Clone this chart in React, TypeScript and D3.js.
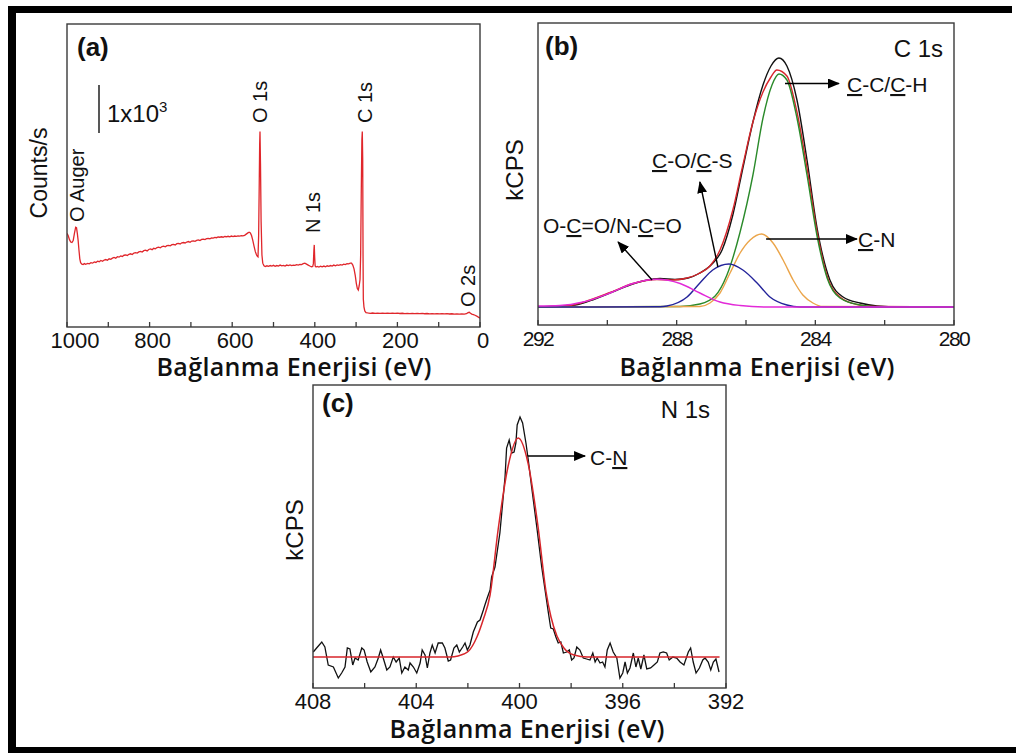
import React from 'react';
import * as d3 from 'd3';

type Pt = [number, number];

// ---------- Panel (a): survey spectrum (binding energy eV, counts/s) ----------
const surveyData: Pt[] = [
  [1000,1950],[997,1900],[994,1820],[991,1770],[988,1760],[985,1800],[982,1950],[979,2080],[977,2070],[975,1950],
  [973,1800],[971,1600],[969,1420],[967,1340],[964,1310],[961,1300],[958,1320],[955,1305],[950,1325],[946,1315],
  [942,1340],[938,1330],[934,1355],[930,1345],[926,1370],[922,1360],[918,1385],[914,1370],[910,1395],[906,1405],
  [902,1390],[898,1420],[894,1410],[890,1435],[886,1450],[882,1435],[878,1465],[874,1455],[870,1480],[866,1470],
  [862,1495],[858,1500],[854,1490],[850,1515],[846,1525],[842,1510],[838,1540],[834,1550],[830,1540],[826,1565],
  [822,1575],[818,1560],[814,1590],[810,1600],[806,1585],[802,1615],[798,1625],[794,1610],[790,1640],[786,1630],
  [782,1655],[778,1665],[774,1650],[770,1675],[766,1685],[762,1670],[758,1695],[754,1700],[750,1690],[746,1715],
  [742,1720],[738,1710],[734,1735],[730,1740],[726,1730],[722,1755],[718,1760],[714,1750],[710,1770],[706,1780],
  [702,1765],[698,1790],[694,1795],[690,1785],[686,1805],[682,1815],[678,1800],[674,1825],[670,1830],[666,1820],
  [662,1840],[658,1845],[654,1835],[650,1855],[646,1850],[642,1865],[638,1860],[634,1875],[630,1870],[626,1880],
  [622,1870],[618,1885],[614,1880],[610,1890],[606,1880],[602,1895],[598,1885],[594,1895],[590,1890],[586,1900],
  [582,1895],[578,1905],[574,1900],[570,1910],[566,1935],[562,1960],[559,1975],[556,1960],[553,1900],[550,1800],
  [547,1680],[544,1570],[541,1500],[539,1470],[537.5,1460],[536,1900],[534.5,3000],[533.5,3800],[532.7,4070],[531.5,3400],
  [530,2200],[528,1500],[526,1330],[523,1275],[520,1260],[516,1275],[512,1265],[508,1280],[504,1270],[500,1285],
  [496,1265],[492,1280],[488,1270],[484,1290],[480,1275],[476,1285],[472,1270],[468,1290],[464,1280],[460,1295],
  [456,1280],[452,1290],[448,1285],[444,1300],[440,1290],[436,1305],[432,1300],[428,1320],[424,1330],[420,1310],
  [416,1290],[412,1270],[408,1255],[405,1260],[403.5,1320],[402.2,1600],[401.3,1710],[400.3,1450],[399.2,1270],[397,1250],
  [394,1262],[390,1250],[386,1265],[382,1255],[378,1270],[374,1255],[370,1275],[366,1265],[362,1280],[358,1270],
  [354,1290],[350,1275],[346,1295],[342,1285],[338,1300],[334,1290],[330,1310],[326,1300],[322,1320],[318,1315],
  [314,1330],[311,1330],[308,1290],[305,1210],[302,1070],[299.5,910],[297,800],[294.7,770],[292.5,860],[290.5,990],
  [289,1500],[287.5,2800],[286,3900],[285,4070],[284,3500],[283.2,1500],[282.5,580],[281,420],[279,335],[276,300],
  [272,292],[266,286],[260,292],[254,284],[248,290],[242,283],[236,289],[230,284],[224,290],[218,282],
  [212,287],[206,283],[200,288],[194,281],[188,286],[182,280],[176,285],[170,279],[164,284],[158,278],
  [152,283],[146,277],[140,282],[134,276],[128,281],[122,275],[116,280],[110,274],[104,279],[98,273],
  [92,278],[86,272],[80,277],[74,271],[68,276],[62,270],[56,275],[50,270],[44,273],[38,270],
  [33,276],[29,300],[26,306],[23,285],[20,268],[16,258],[12,245],[8,228],[4,205],[0,185],
];
const surveyTicks = [1000, 900, 800, 700, 600, 500, 400, 300, 200, 100, 0];
const surveyTickLabels = [1000, 800, 600, 400, 200, 0];
const surveyPeakLabels = ['O Auger', 'O 1s', 'N 1s', 'C 1s', 'O 2s'];
const scaleBarBase = 4040;
const scaleBarLength = 1000;

// ---------- Panel (b): C 1s high resolution ----------
const c1sRaw: Pt[] = [
  [292.0,0],[290.93,0.8],[290.36,3.2],[289.78,6.4],[289.35,8.8],[288.91,10.6],[288.48,11.4],[288.05,11.0],
  [287.67,11.6],[287.33,13.6],[286.98,17.2],[286.69,22.8],[286.38,36.8],[286.09,55.6],[285.80,74.0],
  [285.51,88.8],[285.28,96.4],[285.05,99.6],[284.82,96.4],[284.53,82.8],[284.24,58.8],[283.95,31.6],
  [283.58,10.8],[283.20,4.0],[282.71,1.6],[282.22,0.4],[281.56,0],[280.0,0],
];
const c1sEnvelope: Pt[] = [
  [292.0,0],[291.08,0.6],[290.50,2.8],[289.92,5.8],[289.26,9.4],[288.57,11.0],[288.13,10.8],[287.76,11.4],
  [287.38,13.2],[287.04,16.4],[286.75,22.8],[286.38,38.8],[286.09,56.8],[285.80,74.0],[285.51,86.0],
  [285.28,92.0],[285.11,94.8],[284.82,92.4],[284.53,78.0],[284.24,55.6],[283.95,30.0],[283.66,12.4],
  [283.29,4.0],[282.80,1.0],[282.34,0.2],[280.0,0],
];
const c1sCC: Pt[] = [
  [292.0,0],[287.90,0.2],[287.33,1.2],[286.89,4.4],[286.55,12.8],[286.17,30.0],[285.80,52.8],[285.51,75.6],
  [285.25,88.8],[285.05,93.2],[284.82,90.8],[284.53,75.6],[284.24,52.8],[283.95,28.4],[283.66,11.6],
  [283.29,3.6],[282.71,0.8],[282.13,0],[280.0,0],
];
const c1sCN: Pt[] = [
  [292.0,0],[287.33,0.2],[287.04,1.6],[286.75,5.6],[286.46,13.6],[286.17,21.6],[285.88,26.8],[285.55,29.2],
  [285.22,25.6],[284.93,18.8],[284.64,10.8],[284.36,4.8],[284.07,1.6],[283.78,0.2],[280.0,0],
];
const c1sCO: Pt[] = [
  [292.0,0],[288.48,0.1],[288.28,0.4],[287.70,4.0],[287.33,9.6],[286.96,14.8],[286.49,17.2],[286.09,14.8],
  [285.68,9.6],[285.31,4.0],[284.82,0.8],[284.44,0],[280.0,0],
];
const c1sOCO: Pt[] = [
  [292.0,0.4],[291.37,0.6],[290.70,2.0],[289.92,5.6],[289.26,9.4],[288.57,11.1],[287.90,9.4],[287.33,5.6],
  [286.75,2.0],[286.17,0.6],[285.39,0],[280.0,0],
];
const c1sTicks = [292, 290, 288, 286, 284, 282, 280];
const c1sTickLabels = [292, 288, 284, 280];

// ---------- Panel (c): N 1s high resolution ----------
const n1sRaw: Pt[] = [
  [407.99,0.5],[407.86,0.9],[407.66,1.5],[407.54,1.0],[407.41,-0.8],[407.21,-1.0],[407.02,-2.1],[406.89,-1.6],
  [406.76,-1.0],[406.67,0.9],[406.57,0.8],[406.46,-0.8],[406.37,-0.1],[406.25,-0.3],[406.11,0.9],[406.02,0.7],
  [405.90,-0.5],[405.76,-1.5],[405.60,-1.0],[405.47,-0.1],[405.38,0.7],[405.28,-0.1],[405.14,-1.3],[405.02,-1.0],
  [404.89,0.0],[404.78,-0.5],[404.66,-0.1],[404.56,-1.6],[404.44,-1.0],[404.31,-1.3],[404.24,-0.6],[404.11,-1.0],
  [403.98,-1.6],[403.85,-0.6],[403.77,0.7],[403.66,0.2],[403.57,-1.1],[403.47,0.4],[403.38,1.2],[403.27,0.4],
  [403.15,1.4],[402.99,1.4],[402.89,0.9],[402.76,-0.4],[402.67,-0.3],[402.54,0.9],[402.43,1.2],[402.33,0.5],
  [402.20,1.0],[402.11,1.4],[402.02,0.7],[401.92,1.2],[401.79,2.5],[401.63,3.5],[401.53,3.7],[401.40,4.7],
  [401.34,5.2],[401.25,5.9],[401.14,6.7],[401.08,8.0],[400.95,9.0],[400.76,12.4],[400.56,18.0],[400.50,20.9],
  [400.40,21.7],[400.30,20.4],[400.21,20.5],[400.14,21.4],[400.09,23.2],[399.98,24.0],[399.88,23.4],[399.75,21.4],
  [399.66,19.7],[399.53,17.0],[399.33,13.0],[399.14,9.0],[399.01,6.7],[398.88,4.4],[398.79,2.9],[398.69,2.8],
  [398.59,2.0],[398.50,1.4],[398.40,1.5],[398.30,0.4],[398.17,0.5],[398.07,0.7],[397.98,-0.3],[397.89,-0.1],
  [397.78,1.0],[397.66,0.7],[397.53,-0.1],[397.40,-0.2],[397.27,-0.3],[397.16,0.4],[397.07,-0.5],[396.99,-0.1],
  [396.88,-0.6],[396.78,-0.5],[396.69,-1.0],[396.60,0.7],[396.49,1.4],[396.37,0.5],[396.23,-0.1],[396.11,-2.1],
  [396.00,-1.6],[395.91,-0.5],[395.82,-1.6],[395.72,-1.1],[395.59,0.4],[395.49,-1.0],[395.40,-0.1],[395.30,-1.2],
  [395.18,0.2],[395.07,-1.2],[394.92,-1.1],[394.79,-0.8],[394.66,-0.5],[394.56,0.4],[394.43,0.5],[394.30,0.4],
  [394.20,-0.3],[394.06,0.0],[393.91,-0.1],[393.78,-0.5],[393.63,-0.8],[393.46,0.5],[393.37,0.9],[393.27,-0.5],
  [393.16,-1.6],[393.03,-1.1],[392.90,-0.3],[392.81,-0.1],[392.69,-0.5],[392.59,-1.3],[392.49,-0.5],[392.39,-0.2],
  [392.27,-1.5],
];
const n1sFit: Pt[] = [
  [408.0,0],[402.69,0],[402.38,0.1],[401.99,0.55],[401.65,2.0],[401.41,3.7],[401.14,6.2],[400.83,12.7],
  [400.44,19.1],[400.05,21.9],[399.67,19.4],[399.28,13.0],[398.97,6.5],[398.78,4.0],[398.55,2.1],
  [398.28,0.9],[397.89,0.2],[397.38,0],[392.25,0],
];
const n1sTicks = [408, 406, 404, 402, 400, 398, 396, 394, 392];
const n1sTickLabels = [408, 404, 400, 396, 392];

const axisTitle = 'Bağlanma Enerjisi (eV)';

const SANS = '"Liberation Sans", Arial, sans-serif';
const TITLE = '"Open Sans", "Noto Sans", sans-serif';

type Seg = { t: string; u?: boolean };

function Label({ x, y, segs, size = 21 }: { x: number; y: number; segs: Seg[]; size?: number }) {
  return (
    <text x={x} y={y} fontFamily={SANS} fontSize={size} fill="#111">
      {segs.map((s, i) => (
        <tspan key={i} textDecoration={s.u ? 'underline' : undefined}>{s.t}</tspan>
      ))}
    </text>
  );
}

function Arrow({ x1, y1, x2, y2 }: { x1: number; y1: number; x2: number; y2: number }) {
  return <line x1={x1} y1={y1} x2={x2} y2={y2} stroke="#000" strokeWidth={1.4} markerEnd="url(#ah)" />;
}

function Box({ x0, x1, y0, y1 }: { x0: number; x1: number; y0: number; y1: number }) {
  return <rect x={x0} y={y0} width={x1 - x0} height={y1 - y0} fill="none" stroke="#3a3a3a" strokeWidth={1.4} />;
}

function Title({ x, y }: { x: number; y: number }) {
  return (
    <text x={x} y={y} textAnchor="middle" fontFamily={TITLE} fontWeight={600} fontSize={25}
      textLength={275} lengthAdjust="spacing" fill="#111">{axisTitle}</text>
  );
}

export default function App() {
  // panel a
  const xA = d3.scaleLinear().domain([1000, 0]).range([67, 480]);
  const yA = d3.scaleLinear().domain([0, 6312]).range([327, 24]);
  const lineA = d3.line<Pt>().x(d => xA(d[0])).y(d => yA(d[1]));

  // panel b
  const xB = d3.scaleLinear().domain([292, 280]).range([538, 954]);
  const yB = d3.scaleLinear().domain([-7.2, 113.6]).range([325, 23]);
  const lineB = d3.line<Pt>().x(d => xB(d[0])).y(d => yB(d[1])).curve(d3.curveMonotoneX);

  // panel c
  const xC = d3.scaleLinear().domain([408, 392]).range([313, 726]);
  const yC = d3.scaleLinear().domain([-3.1, 27.2]).range([688, 385]);
  const lineCRaw = d3.line<Pt>().x(d => xC(d[0])).y(d => yC(d[1]));
  const lineCFit = d3.line<Pt>().x(d => xC(d[0])).y(d => yC(d[1])).curve(d3.curveMonotoneX);

  const bLines: { d: Pt[]; c: string }[] = [
    { d: c1sRaw, c: '#111111' },
    { d: c1sEnvelope, c: '#d7262b' },
    { d: c1sCC, c: '#2a8a2a' },
    { d: c1sCN, c: '#eba54a' },
    { d: c1sCO, c: '#23239a' },
    { d: c1sOCO, c: '#e22ad8' },
  ];

  return (
    <svg width={1016} height={753} style={{ position: 'absolute', left: 0, top: 0, background: '#fff' }}>
      <defs>
        <marker id="ah" viewBox="0 0 12 10" refX={11} refY={5} markerWidth={12} markerHeight={10}
          markerUnits="userSpaceOnUse" orient="auto">
          <path d="M0,0 L12,5 L0,10 Z" fill="#000" />
        </marker>
        <clipPath id="clipA"><rect x={67} y={24} width={413} height={303} /></clipPath>
        <clipPath id="clipB"><rect x={538} y={23} width={416} height={302} /></clipPath>
        <clipPath id="clipC"><rect x={313} y={385} width={413} height={303} /></clipPath>
      </defs>

      {/* outer frame */}
      <rect x={8} y={6} width={8} height={747} fill="#000" />
      <rect x={8} y={6} width={1004} height={7} fill="#000" />
      <rect x={8} y={747} width={1008} height={6} fill="#000" />

      {/* ---------- Panel a ---------- */}
      <g>
        <path d={lineA(surveyData) || ''} fill="none" stroke="#e0262b" strokeWidth={1.3} clipPath="url(#clipA)" />
        {surveyTicks.map(t => (
          <line key={t} x1={xA(t)} x2={xA(t)} y1={327} y2={322} stroke="#3a3a3a" strokeWidth={1.3} />
        ))}
        <Box x0={67} x1={480} y0={24} y1={327} />
        {surveyTickLabels.map(t => (
          <text key={t} x={xA(t) + (t === 1000 ? 8 : 3)} y={348} textAnchor="middle" fontFamily={SANS} fontSize={22} fill="#111">{t}</text>
        ))}
        <Title x={294} y={376} />
        <text transform="translate(47,173) rotate(-90)" textAnchor="middle" fontFamily={SANS} fontSize={23} fill="#111">Counts/s</text>
        <text x={77} y={56} fontFamily={SANS} fontWeight={700} fontSize={26} fill="#111">(a)</text>
        <line x1={99} x2={99} y1={yA(scaleBarBase)} y2={yA(scaleBarBase + scaleBarLength)} stroke="#111" strokeWidth={1.4} />
        <text x={107} y={122} fontFamily={SANS} fontSize={24} fill="#111">1x10<tspan fontSize={15} dy={-10}>3</tspan></text>
        {[
          { x: 84, y: 222 },
          { x: 267, y: 123 },
          { x: 320, y: 233 },
          { x: 372, y: 123 },
          { x: 475, y: 307 },
        ].map((p, i) => (
          <text key={i} transform={`translate(${p.x},${p.y}) rotate(-90)`} fontFamily={SANS} fontSize={20} fill="#111">{surveyPeakLabels[i]}</text>
        ))}
      </g>

      {/* ---------- Panel b ---------- */}
      <g>
        <g clipPath="url(#clipB)">
          {bLines.map((l, i) => (
            <path key={i} d={lineB(l.d) || ''} fill="none" stroke={l.c} strokeWidth={1.4} />
          ))}
        </g>
        {c1sTicks.map(t => (
          <line key={t} x1={xB(t)} x2={xB(t)} y1={325} y2={320} stroke="#3a3a3a" strokeWidth={1.3} />
        ))}
        <Box x0={538} x1={954} y0={23} y1={325} />
        {c1sTickLabels.map(t => (
          <text key={t} x={xB(t)} y={346} textAnchor="middle" fontFamily={SANS} fontSize={21} letterSpacing={-1.5} fill="#111">{t}</text>
        ))}
        <Title x={757} y={376} />
        <text transform="translate(523,170) rotate(-90)" textAnchor="middle" fontFamily={SANS} fontSize={24} fill="#111">kCPS</text>
        <text x={545} y={55} fontFamily={SANS} fontWeight={700} fontSize={26} fill="#111">(b)</text>
        <text x={943} y={57} textAnchor="end" fontFamily={SANS} fontSize={24} fill="#111">C 1s</text>
        <Arrow x1={xB(284.875)} y1={yB(89.4)} x2={xB(283.32)} y2={yB(89.4)} />
        <Label x={847} y={92} segs={[{ t: 'C', u: true }, { t: '-C/' }, { t: 'C', u: true }, { t: '-H' }]} />
        <Arrow x1={xB(285.42)} y1={yB(27.2)} x2={xB(282.8)} y2={yB(27.2)} />
        <Label x={858} y={247} segs={[{ t: 'C', u: true }, { t: '-N' }]} />
        <Arrow x1={xB(286.81)} y1={yB(16.0)} x2={xB(287.33)} y2={yB(50)} />
        <Label x={652} y={168} segs={[{ t: 'C', u: true }, { t: '-O/' }, { t: 'C', u: true }, { t: '-S' }]} />
        <Arrow x1={xB(288.71)} y1={yB(10.8)} x2={xB(289.69)} y2={yB(26)} />
        <Label x={543} y={233} segs={[{ t: 'O-' }, { t: 'C', u: true }, { t: '=O/N-' }, { t: 'C', u: true }, { t: '=O' }]} />
      </g>

      {/* ---------- Panel c ---------- */}
      <g>
        <g clipPath="url(#clipC)">
          <path d={lineCRaw(n1sRaw) || ''} fill="none" stroke="#111" strokeWidth={1.3} />
          <path d={lineCFit(n1sFit) || ''} fill="none" stroke="#d7262b" strokeWidth={1.5} />
        </g>
        {n1sTicks.map(t => (
          <line key={t} x1={xC(t)} x2={xC(t)} y1={688} y2={683} stroke="#3a3a3a" strokeWidth={1.3} />
        ))}
        <Box x0={313} x1={726} y0={385} y1={688} />
        {n1sTickLabels.map(t => (
          <text key={t} x={xC(t)} y={709} textAnchor="middle" fontFamily={SANS} fontSize={22} fill="#111">{t}</text>
        ))}
        <Title x={527} y={738} />
        <text transform="translate(303,530) rotate(-90)" textAnchor="middle" fontFamily={SANS} fontSize={24} fill="#111">kCPS</text>
        <text x={322} y={412} fontFamily={SANS} fontWeight={700} fontSize={26} fill="#111">(c)</text>
        <text x={710} y={418} textAnchor="end" fontFamily={SANS} fontSize={24} fill="#111">N 1s</text>
        <Arrow x1={xC(399.67)} y1={yC(20.1)} x2={xC(397.46)} y2={yC(20.1)} />
        <Label x={590} y={465} segs={[{ t: 'C-' }, { t: 'N', u: true }]} />
      </g>
    </svg>
  );
}
